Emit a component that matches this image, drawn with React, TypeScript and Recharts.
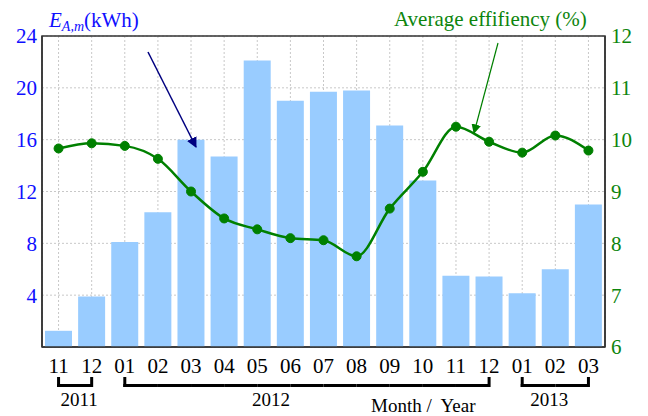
import { ComposedChart, Bar, Line, XAxis, YAxis, CartesianGrid, ReferenceArea } from "recharts";

const months = ["11", "12", "01", "02", "03", "04", "05", "06", "07", "08", "09", "10", "11", "12", "01", "02", "03"];
const years = ["2011", "2011", "2012", "2012", "2012", "2012", "2012", "2012", "2012", "2012", "2012", "2012", "2012", "2012", "2013", "2013", "2013"];
const energy = [1.25, 3.9, 8.1, 10.4, 16.0, 14.7, 22.1, 19.0, 19.7, 19.8, 17.1, 12.85, 5.5, 5.45, 4.15, 6.0, 11.0];
const efficiency = [9.83, 9.93, 9.88, 9.63, 9.0, 8.48, 8.27, 8.1, 8.06, 7.75, 8.67, 9.38, 10.25, 9.96, 9.75, 10.08, 9.79];
const energyTicks = [4, 8, 12, 16, 20, 24];
const effTicks = [6, 7, 8, 9, 10, 11, 12];
// small nudges so the year captions sit where the original put them
const yearShift: Record<string, number> = { "2011": 4, "2012": -36, "2013": -6 };

const data = months.map((m, i) => ({ key: i, month: m, year: years[i], energy: energy[i], eff: efficiency[i] }));

const W = 648;
const H = 416;
const LEFT = 42;
const RIGHT = 43;
const STEP = (W - LEFT - RIGHT) / months.length;
const SERIF = "'Liberation Serif', 'Times New Roman', serif";

const MonthTick = (props: any) => {
  const { x, y, payload } = props;
  const i: number = props.index ?? payload.index ?? payload.value;
  const yr = years[i];
  const first = i === 0 || years[i - 1] !== yr;
  const last = i === years.length - 1 || years[i + 1] !== yr;
  let label = null;
  if (first) {
    let n = 1;
    while (years[i + n] === yr) n++;
    const mid = x + ((n - 1) * STEP) / 2 + yearShift[yr];
    label = (
      <text x={mid} y={y + 59} textAnchor="middle" fontSize={19} fontFamily={SERIF} fill="#000">
        {yr}
      </text>
    );
  }
  return (
    <g>
      <text x={x} y={y + 26} textAnchor="middle" fontSize={21} fontFamily={SERIF} fill="#000">
        {months[i]}
      </text>
      {(first || last) && <line x1={x} x2={x} y1={y + 30} y2={y + 40} stroke="#000" strokeWidth={3} />}
      {!last && <line x1={x - (first ? 1.5 : 0)} x2={x + STEP} y1={y + 38.5} y2={y + 38.5} stroke="#000" strokeWidth={3} />}
      {label}
    </g>
  );
};

export default function App() {
  return (
    <div style={{ position: "absolute", left: 0, top: 0, width: W, height: H, background: "#fff" }}>
      <ComposedChart width={W} height={H} data={data} margin={{ top: 36, right: 0, left: 0, bottom: 0 }}>
        <CartesianGrid yAxisId="left" stroke="#c8c8c8" strokeDasharray="2 2" />
        <XAxis
          dataKey="key"
          type="category"
          height={69}
          tickSize={0}
          tickMargin={0}
          interval={0}
          tickLine={false}
          axisLine={{ stroke: "#333", strokeWidth: 1.5 }}
          tick={<MonthTick />}
        />
        <YAxis
          yAxisId="left"
          width={LEFT}
          domain={[0, 24]}
          ticks={energyTicks}
          tickLine={false}
          tickSize={5}
          tickMargin={0}
          axisLine={{ stroke: "#333", strokeWidth: 1.5 }}
          tick={{ fill: "#0f0fff", fontSize: 21, fontFamily: SERIF }}
        />
        <YAxis
          yAxisId="right"
          orientation="right"
          width={RIGHT}
          domain={[6, 12]}
          ticks={effTicks}
          tickLine={false}
          tickSize={6}
          tickMargin={0}
          axisLine={{ stroke: "#333", strokeWidth: 1.5 }}
          tick={{ fill: "#0d850d", fontSize: 21, fontFamily: SERIF, textAnchor: "start" }}
        />
        <ReferenceArea yAxisId="left" y1={0} y2={24} fill="none" stroke="#333" strokeWidth={1.5} />
        <Bar yAxisId="left" dataKey="energy" fill="#99ccff" barSize={27} isAnimationActive={false} />
        <Line
          yAxisId="right"
          type="monotone"
          dataKey="eff"
          stroke="#008000"
          strokeWidth={2.5}
          dot={{ r: 4.5, fill: "#008000", stroke: "#008000", strokeWidth: 1 }}
          isAnimationActive={false}
        />
      </ComposedChart>
      <svg width={W} height={H} style={{ position: "absolute", left: 0, top: 0, pointerEvents: "none" }}>
        <defs>
          <marker id="navyHead" viewBox="0 0 10 10" refX="9" refY="5" markerWidth="7" markerHeight="7" orient="auto">
            <path d="M0,0 L10,5 L0,10 z" fill="#000080" />
          </marker>
          <marker id="greenHead" viewBox="0 0 10 10" refX="9" refY="5" markerWidth="8" markerHeight="8" orient="auto">
            <path d="M0,0 L10,5 L0,10 z" fill="#008000" />
          </marker>
        </defs>
        <line x1={148} y1={52} x2={196} y2={147} stroke="#000080" strokeWidth={1.5} markerEnd="url(#navyHead)" />
        <line x1={498} y1={43} x2={474} y2={133} stroke="#008000" strokeWidth={1.2} markerEnd="url(#greenHead)" />
        <text x={49} y={27} fontSize={21} fontFamily={SERIF} fill="#0f0fff">
          <tspan fontStyle="italic">E</tspan>
          <tspan fontStyle="italic" fontSize={14} dy={4}>A,m</tspan>
          <tspan dy={-4}>(kWh)</tspan>
        </text>
        <text x={394} y={26} fontSize={21} fontFamily={SERIF} fill="#0d850d">
          Average effifiency (%)
        </text>
        <text x={371} y={412} fontSize={19} fontFamily={SERIF} fill="#000" xmlSpace="preserve">
          Month /  Year
        </text>
      </svg>
    </div>
  );
}
